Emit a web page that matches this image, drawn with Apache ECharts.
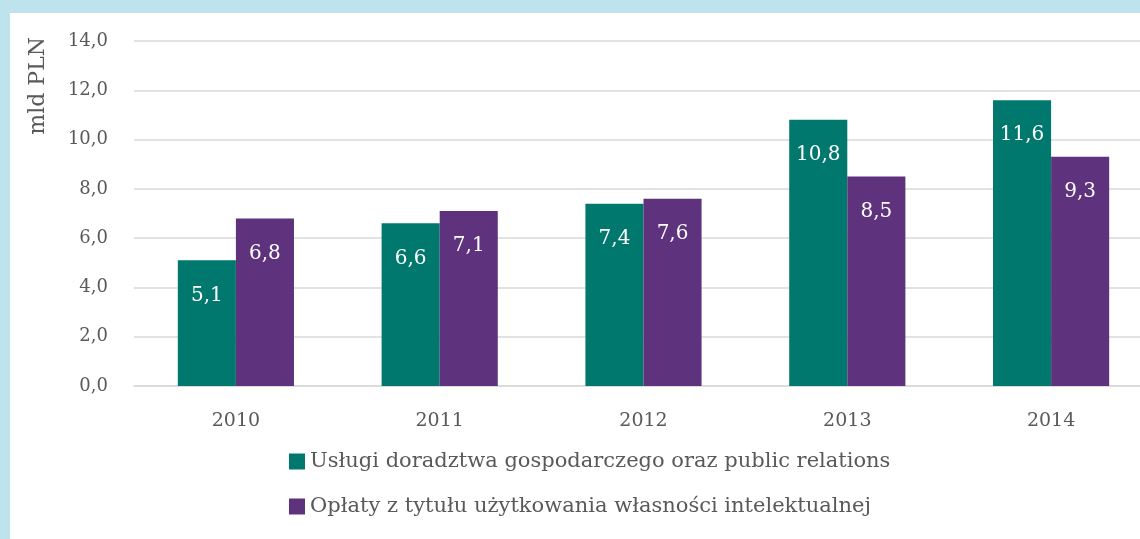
<!DOCTYPE html>
<html>
<head>
<meta charset="utf-8">
<script src="https://cdn.jsdelivr.net/npm/echarts@6/dist/echarts.min.js"></script>
<style>
  html, body { margin: 0; padding: 0; width: 1140px; height: 539px; background: #bee3ec; overflow: hidden; }
  #chart { position: absolute; left: 10px; top: 13px; width: 1143px; height: 526px; background: #ffffff; }
</style>
</head>
<body>
<div id="chart"></div>
<script>
// dane wykresu
const years = ['2010', '2011', '2012', '2013', '2014']
const uslugiValues = [5.1, 6.6, 7.4, 10.8, 11.6]
const oplatyValues = [6.8, 7.1, 7.6, 8.5, 9.3]
const seriesNames = [
  'Usługi doradztwa gospodarczego oraz public relations',
  'Opłaty z tytułu użytkowania własności intelektualnej'
]
const yTicks = { min: 0, max: 14, interval: 2 }

const fontFamily = '"DejaVu Serif", "Liberation Serif", serif'
const textColor = '#595959'
const gridColor = '#d9d9d9'
const colors = ['#00786e', '#5e327c']

// format z przecinkiem dziesiętnym
const fmt = (v) => Number(v).toFixed(1).replace('.', ',')

const chartInstance = echarts.init(document.getElementById('chart'))

const buildSeries = (name, data, idx) => ({
  name: name,
  type: 'bar',
  data: data,
  barGap: '0%',
  barCategoryGap: '43%',
  itemStyle: { color: colors[idx] },
  label: {
    show: true,
    position: 'insideTop',
    distance: 25,
    color: '#ffffff',
    fontFamily: fontFamily,
    fontSize: 20,
    formatter: (p) => fmt(p.value)
  }
})

const option = {
  animation: false,
  grid: { left: 124, right: 0, top: 28, bottom: 153, containLabel: false },
  xAxis: {
    type: 'category',
    data: years,
    axisLine: { lineStyle: { color: gridColor, width: 1.5 } },
    axisTick: { show: false },
    axisLabel: { color: textColor, fontFamily: fontFamily, fontSize: 19, margin: 26 }
  },
  yAxis: {
    type: 'value',
    min: yTicks.min,
    max: yTicks.max,
    interval: yTicks.interval,
    axisLine: { show: false },
    axisTick: { show: false },
    axisLabel: { color: textColor, fontFamily: fontFamily, fontSize: 18, margin: 26, formatter: fmt },
    splitLine: { lineStyle: { color: gridColor, width: 1.5 } }
  },
  legend: {
    orient: 'vertical',
    left: 274,
    top: 433,
    itemWidth: 16,
    itemHeight: 16,
    itemGap: 24,
    icon: 'rect',
    textStyle: { color: textColor, fontFamily: fontFamily, fontSize: 21 },
    data: seriesNames
  },
  graphic: [{
    type: 'text',
    left: 17,
    top: 24,
    rotation: Math.PI / 2,
    style: { text: 'mld PLN', fill: textColor, font: '22px ' + fontFamily }
  }],
  series: [
    buildSeries(seriesNames[0], uslugiValues, 0),
    buildSeries(seriesNames[1], oplatyValues, 1)
  ]
}

chartInstance.setOption(option)
</script>
</body>
</html>
